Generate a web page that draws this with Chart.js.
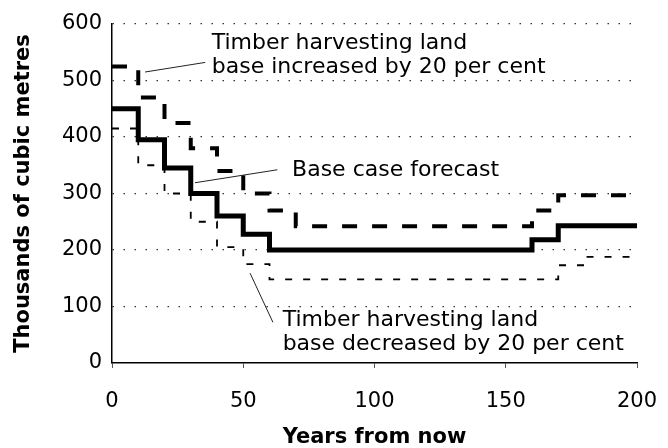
<!DOCTYPE html>
<html>
<head>
<meta charset="utf-8">
<script src="https://cdn.jsdelivr.net/npm/chart.js@4"></script>
<style>
  body { margin: 0; background: #fff; }
  #wrap { width: 668px; height: 448px; }
</style>
</head>
<body>
<div id="wrap"><canvas id="chart1" width="668" height="448"></canvas></div>
<script>
// decade steps, each value holds until the next year
const years = [0,10,20,30,40,50,60,70,80,90,100,110,120,130,140,150,160,170,180,190,200];
const increased = [525,470,425,380,340,300,270,242,242,242,242,242,242,242,242,242,270,297,297,297,297];
const baseCase = [450,395,345,300,260,228,200,200,200,200,200,200,200,200,200,200,218,243,243,243,243];
const decreased = [415,350,300,250,205,175,148,148,148,148,148,148,148,148,148,148,148,173,188,188,188];
const yTicks = [0,100,200,300,400,500,600];
const xTicks = [0,50,100,150,200];

// callout labels: text position and leader line, in data units
const notes = [
  { lines: ["Timber harvesting land", "base increased by 20 per cent"], at: [38, 566], from: [12.6, 515], to: [35.5, 532] },
  { lines: ["Base case forecast"], at: [68.6, 341], from: [31.6, 319], to: [63, 342] },
  { lines: ["Timber harvesting land", "base decreased by 20 per cent"], at: [65, 76], from: [52.6, 159], to: [61.3, 72] }
];

function pts(vals) {
  return years.map((y, i) => ({ x: y, y: vals[i] }));
}

Chart.defaults.font.family = "'DejaVu Sans', sans-serif";
Chart.defaults.color = "#000";

const callouts = {
  id: "callouts",
  afterDatasetsDraw(chart) {
    const ctx = chart.ctx, xs = chart.scales.x, ys = chart.scales.y;
    ctx.save();
    ctx.strokeStyle = "#222";
    ctx.lineWidth = 1;
    ctx.fillStyle = "#000";
    ctx.font = "22px 'DejaVu Sans'";
    ctx.textBaseline = "middle";
    ctx.textAlign = "left";
    notes.forEach(n => {
      ctx.beginPath();
      ctx.moveTo(xs.getPixelForValue(n.from[0]), ys.getPixelForValue(n.from[1]));
      ctx.lineTo(xs.getPixelForValue(n.to[0]), ys.getPixelForValue(n.to[1]));
      ctx.stroke();
      const tx = xs.getPixelForValue(n.at[0]);
      const ty = ys.getPixelForValue(n.at[1]);
      n.lines.forEach((t, i) => ctx.fillText(t, tx, ty + i * 24));
    });
    ctx.restore();
  }
};

let myChart1 = document.getElementById("chart1").getContext("2d");

new Chart(myChart1, {
  type: "line",
  data: {
    datasets: [
      { label: "Decreased", data: pts(decreased), borderColor: "#000", borderWidth: 1.8, borderDash: [7, 11], stepped: true, pointRadius: 0, fill: false },
      { label: "Increased", data: pts(increased), borderColor: "#000", borderWidth: 4, borderDash: [15, 15], stepped: true, pointRadius: 0, fill: false },
      { label: "Base case", data: pts(baseCase), borderColor: "#000", borderWidth: 5, stepped: true, pointRadius: 0, fill: false }
    ]
  },
  options: {
    responsive: false,
    animation: false,
    layout: { padding: { top: 24, right: 31, left: 0, bottom: 0 } },
    plugins: { legend: { display: false }, tooltip: { enabled: false } },
    scales: {
      x: {
        type: "linear",
        min: 0, max: 200,
        afterBuildTicks: s => { s.ticks = xTicks.map(v => ({ value: v })); },
        afterFit: s => { s.height = 85; s.paddingLeft = 0; s.paddingRight = 0; },
        ticks: { font: { size: 21 }, padding: 21, maxRotation: 0 },
        grid: { drawOnChartArea: false, drawTicks: true, tickLength: 5, tickColor: "#555", tickWidth: 1 },
        border: { display: true, color: "#000", width: 1.5 },
        title: { display: true, text: "Years from now", font: { size: 21, weight: "bold", lineHeight: 1 }, padding: { top: 0, bottom: 0 } }
      },
      y: {
        min: 0, max: 600,
        afterBuildTicks: s => { s.ticks = yTicks.map(v => ({ value: v })); },
        afterFit: s => { s.width = 112; },
        ticks: { font: { size: 21 }, padding: 10 },
        grid: { drawTicks: false, color: c => (c.tick && c.tick.value === 0 ? "rgba(0,0,0,0)" : "#333"), lineWidth: 1.3 },
        border: { display: true, color: "#000", width: 1.5, dash: [1.5, 9.5] },
        title: { display: true, text: "Thousands of cubic metres", font: { size: 21, weight: "bold", lineHeight: 1 }, padding: { top: 13, bottom: 0 } }
      }
    }
  },
  plugins: [callouts]
});
</script>
</body>
</html>
